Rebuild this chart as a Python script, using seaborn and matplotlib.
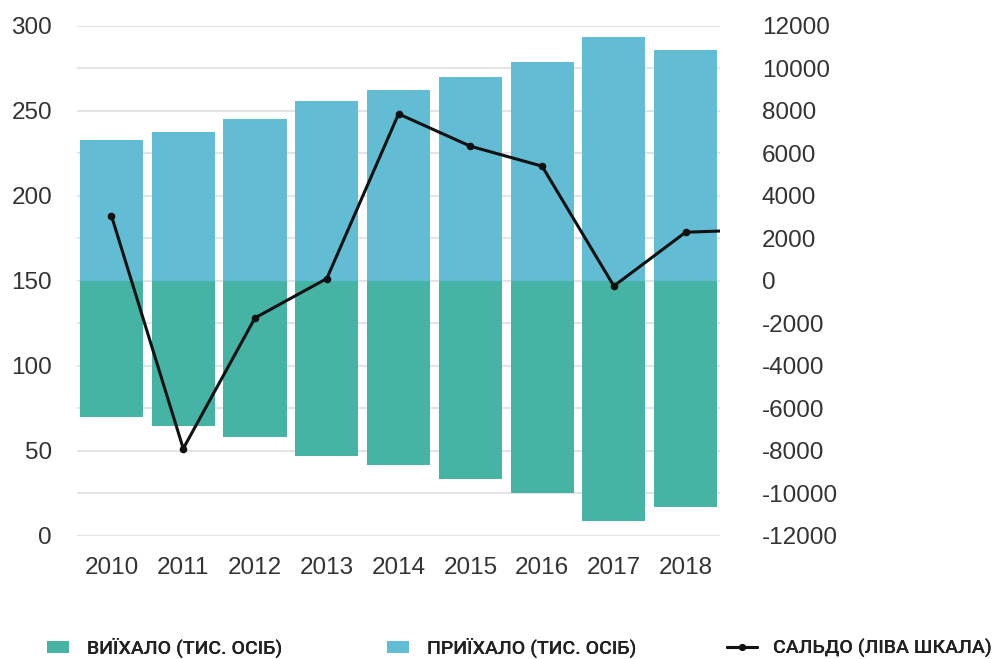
"""
Migration chart: arrivals / departures (thousand persons) and net balance
"""

import numpy as np
import matplotlib
matplotlib.use('Agg')
import matplotlib.pyplot as plt
from matplotlib.ticker import MultipleLocator
from matplotlib.patches import Patch
from matplotlib.lines import Line2D
from matplotlib.font_manager import FontProperties
import seaborn as sns

# data
years = [2010, 2011, 2012, 2013, 2014, 2015, 2016, 2017, 2018]
arrivals = [82.8, 87.6, 95.1, 105.6, 112.0, 119.8, 128.5, 143.5, 135.5]
departures = [80.0, 85.3, 92.1, 103.3, 108.6, 116.5, 124.7, 141.4, 133.3]
# net balance, last value belongs to 2019 and is cut off by the axis edge
saldo = [3050, -7900, -1750, 100, 7850, 6330, 5390, -250, 2280, 2400]

labels = ['ВИЇХАЛО (ТИС. ОСІБ)', 'ПРИЇХАЛО (ТИС. ОСІБ)', 'САЛЬДО (ЛІВА ШКАЛА)']

BASE = 150
TEAL = '#45b4a4'
BLUE = '#61bcd4'
LINE = '#111111'
TICK = '#333333'

sns.set_theme(style='white')
plt.rcParams['font.family'] = ['Liberation Sans', 'DejaVu Sans']
plt.rcParams['axes.unicode_minus'] = False

fig = plt.figure(figsize=(9.98, 6.59), dpi=100)
ax = fig.add_axes([0.0772, 0.1871, 0.6443, 0.7739])

x = np.arange(len(years))
ax.bar(x, arrivals, bottom=BASE, width=0.88, color=BLUE, zorder=2, linewidth=0)
ax.bar(x, [-d for d in departures], bottom=BASE, width=0.88, color=TEAL, zorder=2, linewidth=0)

ax.set_ylim(0, 300)
ax.yaxis.set_major_locator(MultipleLocator(50))
ax.yaxis.set_minor_locator(MultipleLocator(25))
ax.grid(which='both', axis='y', color='#e4e4e4', linewidth=1.5)
ax.grid(axis='x', visible=False)
ax.set_axisbelow(True)
ax.set_xticks(x, [str(y) for y in years])
ax.tick_params(which='both', length=0)
ax.tick_params(axis='y', pad=18, labelsize=17.5, labelcolor=TICK)
ax.tick_params(axis='x', pad=15, labelsize=17.5, labelcolor=TICK)
sns.despine(ax=ax, left=True, bottom=True)

# net balance on the right scale
ax2 = ax.twinx()
sns.lineplot(x=np.arange(len(saldo)), y=saldo, ax=ax2, color=LINE, linewidth=2.2,
             marker='o', markersize=5.5, markeredgewidth=0, zorder=5)
ax2.set_ylim(-12000, 12000)
ax2.yaxis.set_major_locator(MultipleLocator(2000))
ax2.grid(False)
ax2.set_ylabel('')
ax2.tick_params(which='both', length=0)
ax2.tick_params(axis='y', pad=30, labelsize=17.5, labelcolor=TICK)
sns.despine(ax=ax2, left=True, bottom=True, right=True)

ax.set_xlim(-0.48, 8.48)

# legend along the bottom, one entry per block
handles = [
    Patch(facecolor=TEAL, linewidth=0),
    Patch(facecolor=BLUE, linewidth=0),
    Line2D([], [], color=LINE, linewidth=2.2, marker='o', markersize=5, markeredgewidth=0),
]
legend_x = [47, 387, 727]
handle_len = [1.13, 1.13, 1.55]
text_pad = [0.95, 0.95, 0.8]
font = FontProperties(family='Roboto', size=14, weight='medium')
for h, lab, lx, hl, tp in zip(handles, labels, legend_x, handle_len, text_pad):
    leg = fig.legend([h], [lab], loc='center left', bbox_to_anchor=(lx / 998, 0.0167),
                     frameon=False, borderpad=0, borderaxespad=0,
                     handlelength=hl, handleheight=0.55, handletextpad=tp,
                     prop=font, labelcolor='#222222')
    fig.add_artist(leg)

fig.savefig('out.png', dpi=100)
